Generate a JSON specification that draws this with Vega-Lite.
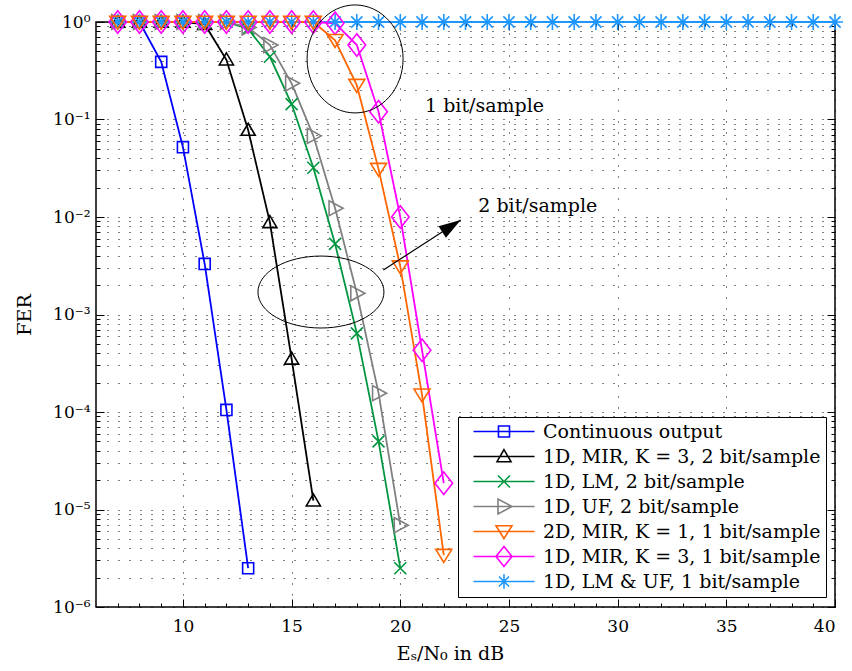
{
  "$schema": "https://vega.github.io/schema/vega-lite/v6.json",
  "width": 739,
  "height": 585,
  "autosize": {"type": "none"},
  "padding": {"left": 96, "top": 22, "right": 17, "bottom": 64},
  "background": "white",
  "config": {
    "font": "DejaVu Serif",
    "view": {"stroke": "#000", "strokeWidth": 1.5},
    "axis": {
      "labelFont": "DejaVu Serif",
      "titleFont": "DejaVu Serif",
      "labelColor": "#000",
      "titleColor": "#000",
      "titleFontWeight": "normal",
      "tickColor": "#000",
      "tickWidth": 1,
      "domain": false,
      "gridColor": "#000",
      "gridDash": [1, 10],
      "gridWidth": 1
    },
    "legend": {
      "orient": "none", "legendX": 362, "legendY": 395,
      "padding": 5, "symbolOffset": 9, "labelOffset": 52, "rowPadding": -2, "gridAlign": "all",
      "symbolSize": 256, "symbolStrokeWidth": 1.6,
      "labelFont": "DejaVu Serif", "labelFontSize": 19, "labelColor": "#000", "labelLimit": 400,
      "strokeColor": "#000", "fillColor": "#fff"
    }
  },
  "datasets": {
    "fer": [
      {"s": "Continuous output", "x": 7, "y": 1},
      {"s": "Continuous output", "x": 8, "y": 1},
      {"s": "Continuous output", "x": 9, "y": 0.39},
      {"s": "Continuous output", "x": 10, "y": 0.052},
      {"s": "Continuous output", "x": 11, "y": 0.0033},
      {"s": "Continuous output", "x": 12, "y": 0.000105},
      {"s": "Continuous output", "x": 13, "y": 0.0000025},
      {"s": "1D, MIR, K = 3, 2 bit/sample", "x": 7, "y": 1},
      {"s": "1D, MIR, K = 3, 2 bit/sample", "x": 8, "y": 1},
      {"s": "1D, MIR, K = 3, 2 bit/sample", "x": 9, "y": 1},
      {"s": "1D, MIR, K = 3, 2 bit/sample", "x": 10, "y": 1},
      {"s": "1D, MIR, K = 3, 2 bit/sample", "x": 11, "y": 0.95},
      {"s": "1D, MIR, K = 3, 2 bit/sample", "x": 12, "y": 0.41},
      {"s": "1D, MIR, K = 3, 2 bit/sample", "x": 13, "y": 0.078},
      {"s": "1D, MIR, K = 3, 2 bit/sample", "x": 14, "y": 0.0088},
      {"s": "1D, MIR, K = 3, 2 bit/sample", "x": 15, "y": 0.00035},
      {"s": "1D, MIR, K = 3, 2 bit/sample", "x": 16, "y": 0.0000123},
      {"s": "1D, LM, 2 bit/sample", "x": 7, "y": 1},
      {"s": "1D, LM, 2 bit/sample", "x": 8, "y": 1},
      {"s": "1D, LM, 2 bit/sample", "x": 9, "y": 1},
      {"s": "1D, LM, 2 bit/sample", "x": 10, "y": 1},
      {"s": "1D, LM, 2 bit/sample", "x": 11, "y": 1},
      {"s": "1D, LM, 2 bit/sample", "x": 12, "y": 1},
      {"s": "1D, LM, 2 bit/sample", "x": 13, "y": 0.85},
      {"s": "1D, LM, 2 bit/sample", "x": 14, "y": 0.44},
      {"s": "1D, LM, 2 bit/sample", "x": 15, "y": 0.144},
      {"s": "1D, LM, 2 bit/sample", "x": 16, "y": 0.032},
      {"s": "1D, LM, 2 bit/sample", "x": 17, "y": 0.0053},
      {"s": "1D, LM, 2 bit/sample", "x": 18, "y": 0.00064},
      {"s": "1D, LM, 2 bit/sample", "x": 19, "y": 0.00005},
      {"s": "1D, LM, 2 bit/sample", "x": 20, "y": 0.0000025},
      {"s": "1D, UF, 2 bit/sample", "x": 7, "y": 1},
      {"s": "1D, UF, 2 bit/sample", "x": 8, "y": 1},
      {"s": "1D, UF, 2 bit/sample", "x": 9, "y": 1},
      {"s": "1D, UF, 2 bit/sample", "x": 10, "y": 1},
      {"s": "1D, UF, 2 bit/sample", "x": 11, "y": 1},
      {"s": "1D, UF, 2 bit/sample", "x": 12, "y": 1},
      {"s": "1D, UF, 2 bit/sample", "x": 13, "y": 0.88},
      {"s": "1D, UF, 2 bit/sample", "x": 14, "y": 0.58},
      {"s": "1D, UF, 2 bit/sample", "x": 15, "y": 0.235},
      {"s": "1D, UF, 2 bit/sample", "x": 16, "y": 0.068},
      {"s": "1D, UF, 2 bit/sample", "x": 17, "y": 0.0123},
      {"s": "1D, UF, 2 bit/sample", "x": 18, "y": 0.00165},
      {"s": "1D, UF, 2 bit/sample", "x": 19, "y": 0.000156},
      {"s": "1D, UF, 2 bit/sample", "x": 20, "y": 0.0000069},
      {"s": "1D, LM & UF, 1 bit/sample", "x": 7, "y": 1},
      {"s": "1D, LM & UF, 1 bit/sample", "x": 8, "y": 1},
      {"s": "1D, LM & UF, 1 bit/sample", "x": 9, "y": 1},
      {"s": "1D, LM & UF, 1 bit/sample", "x": 10, "y": 1},
      {"s": "1D, LM & UF, 1 bit/sample", "x": 11, "y": 1},
      {"s": "1D, LM & UF, 1 bit/sample", "x": 12, "y": 1},
      {"s": "1D, LM & UF, 1 bit/sample", "x": 13, "y": 1},
      {"s": "1D, LM & UF, 1 bit/sample", "x": 14, "y": 1},
      {"s": "1D, LM & UF, 1 bit/sample", "x": 15, "y": 1},
      {"s": "1D, LM & UF, 1 bit/sample", "x": 16, "y": 1},
      {"s": "1D, LM & UF, 1 bit/sample", "x": 17, "y": 1},
      {"s": "1D, LM & UF, 1 bit/sample", "x": 18, "y": 1},
      {"s": "1D, LM & UF, 1 bit/sample", "x": 19, "y": 1},
      {"s": "1D, LM & UF, 1 bit/sample", "x": 20, "y": 1},
      {"s": "1D, LM & UF, 1 bit/sample", "x": 21, "y": 1},
      {"s": "1D, LM & UF, 1 bit/sample", "x": 22, "y": 1},
      {"s": "1D, LM & UF, 1 bit/sample", "x": 23, "y": 1},
      {"s": "1D, LM & UF, 1 bit/sample", "x": 24, "y": 1},
      {"s": "1D, LM & UF, 1 bit/sample", "x": 25, "y": 1},
      {"s": "1D, LM & UF, 1 bit/sample", "x": 26, "y": 1},
      {"s": "1D, LM & UF, 1 bit/sample", "x": 27, "y": 1},
      {"s": "1D, LM & UF, 1 bit/sample", "x": 28, "y": 1},
      {"s": "1D, LM & UF, 1 bit/sample", "x": 29, "y": 1},
      {"s": "1D, LM & UF, 1 bit/sample", "x": 30, "y": 1},
      {"s": "1D, LM & UF, 1 bit/sample", "x": 31, "y": 1},
      {"s": "1D, LM & UF, 1 bit/sample", "x": 32, "y": 1},
      {"s": "1D, LM & UF, 1 bit/sample", "x": 33, "y": 1},
      {"s": "1D, LM & UF, 1 bit/sample", "x": 34, "y": 1},
      {"s": "1D, LM & UF, 1 bit/sample", "x": 35, "y": 1},
      {"s": "1D, LM & UF, 1 bit/sample", "x": 36, "y": 1},
      {"s": "1D, LM & UF, 1 bit/sample", "x": 37, "y": 1},
      {"s": "1D, LM & UF, 1 bit/sample", "x": 38, "y": 1},
      {"s": "1D, LM & UF, 1 bit/sample", "x": 39, "y": 1},
      {"s": "1D, LM & UF, 1 bit/sample", "x": 40, "y": 1},
      {"s": "1D, MIR, K = 3, 1 bit/sample", "x": 7, "y": 1},
      {"s": "1D, MIR, K = 3, 1 bit/sample", "x": 8, "y": 1},
      {"s": "1D, MIR, K = 3, 1 bit/sample", "x": 9, "y": 1},
      {"s": "1D, MIR, K = 3, 1 bit/sample", "x": 10, "y": 1},
      {"s": "1D, MIR, K = 3, 1 bit/sample", "x": 11, "y": 1},
      {"s": "1D, MIR, K = 3, 1 bit/sample", "x": 12, "y": 1},
      {"s": "1D, MIR, K = 3, 1 bit/sample", "x": 13, "y": 1},
      {"s": "1D, MIR, K = 3, 1 bit/sample", "x": 14, "y": 1},
      {"s": "1D, MIR, K = 3, 1 bit/sample", "x": 15, "y": 1},
      {"s": "1D, MIR, K = 3, 1 bit/sample", "x": 16, "y": 1},
      {"s": "1D, MIR, K = 3, 1 bit/sample", "x": 17, "y": 0.97},
      {"s": "1D, MIR, K = 3, 1 bit/sample", "x": 18, "y": 0.58},
      {"s": "1D, MIR, K = 3, 1 bit/sample", "x": 19, "y": 0.12},
      {"s": "1D, MIR, K = 3, 1 bit/sample", "x": 20, "y": 0.01},
      {"s": "1D, MIR, K = 3, 1 bit/sample", "x": 21, "y": 0.00043},
      {"s": "1D, MIR, K = 3, 1 bit/sample", "x": 22, "y": 0.0000186},
      {"s": "2D, MIR, K = 1, 1 bit/sample", "x": 7, "y": 1},
      {"s": "2D, MIR, K = 1, 1 bit/sample", "x": 8, "y": 1},
      {"s": "2D, MIR, K = 1, 1 bit/sample", "x": 9, "y": 1},
      {"s": "2D, MIR, K = 1, 1 bit/sample", "x": 10, "y": 1},
      {"s": "2D, MIR, K = 1, 1 bit/sample", "x": 11, "y": 1},
      {"s": "2D, MIR, K = 1, 1 bit/sample", "x": 12, "y": 1},
      {"s": "2D, MIR, K = 1, 1 bit/sample", "x": 13, "y": 1},
      {"s": "2D, MIR, K = 1, 1 bit/sample", "x": 14, "y": 1},
      {"s": "2D, MIR, K = 1, 1 bit/sample", "x": 15, "y": 1},
      {"s": "2D, MIR, K = 1, 1 bit/sample", "x": 16, "y": 1},
      {"s": "2D, MIR, K = 1, 1 bit/sample", "x": 17, "y": 0.65},
      {"s": "2D, MIR, K = 1, 1 bit/sample", "x": 18, "y": 0.225},
      {"s": "2D, MIR, K = 1, 1 bit/sample", "x": 19, "y": 0.031},
      {"s": "2D, MIR, K = 1, 1 bit/sample", "x": 20, "y": 0.0031},
      {"s": "2D, MIR, K = 1, 1 bit/sample", "x": 21, "y": 0.00015},
      {"s": "2D, MIR, K = 1, 1 bit/sample", "x": 22, "y": 0.0000034}
    ],
    "ellipses": [
      {"id": "e1", "x": 17.92, "y": 0.418},
      {"id": "e2", "x": 16.35, "y": 0.0017}
    ],
    "notes": [
      {"text": "1 bit/sample", "x": 21.14, "y": 0.1376},
      {"text": "2 bit/sample", "x": 23.59, "y": 0.01297}
    ],
    "arrow": [
      {"x": 19.22, "y": 0.00286, "x2": 22.78, "y2": 0.0093}
    ]
  },
  "layer": [
    {
      "data": {"name": "fer"},
      "mark": {"type": "line", "strokeWidth": 1.8},
      "encoding": {
        "x": {
          "field": "x", "type": "quantitative",
          "scale": {"domain": [6, 40], "nice": false, "zero": false},
          "axis": {
            "orient": "bottom",
            "title": "Eₛ/N₀ in dB",
            "titleFontSize": 19,
            "titlePadding": 10,
            "titleX": 354,
            "labelFontSize": 17,
            "labelPadding": 19,
            "values": [7,8,9,10,11,12,13,14,15,16,17,18,19,20,21,22,23,24,25,26,27,28,29,30,31,32,33,34,35,36,37,38,39,40],
            "labelExpr": "datum.value % 5 === 0 ? datum.label : ''",
            "tickSize": {"condition": {"test": "datum.value % 5 === 0", "value": -8}, "value": -4},
            "gridOpacity": {"condition": {"test": "datum.value % 5 === 0", "value": 1}, "value": 0},
            "grid": true
          }
        },
        "y": {
          "field": "y", "type": "quantitative",
          "scale": {"type": "log", "domain": [0.000001, 1], "nice": false},
          "axis": {
            "orient": "left",
            "title": "FER",
            "titleFontSize": 19,
            "titlePadding": 18,
            "labelFontSize": 17,
            "labelPadding": 14,
            "values": [0.000001,0.000002,0.000003,0.000004,0.000005,0.000006,0.000007,0.000008,0.000009,0.00001,0.00002,0.00003,0.00004,0.00005,0.00006,0.00007,0.00008,0.00009,0.0001,0.0002,0.0003,0.0004,0.0005,0.0006,0.0007,0.0008,0.0009,0.001,0.002,0.003,0.004,0.005,0.006,0.007,0.008,0.009,0.01,0.02,0.03,0.04,0.05,0.06,0.07,0.08,0.09,0.1,0.2,0.3,0.4,0.5,0.6,0.7,0.8,0.9,1],
            "labelExpr": "abs(log(datum.value)/LN10 - round(log(datum.value)/LN10)) < 0.000001 ? ('10' + (round(log(datum.value)/LN10) == 0 ? '⁰' : '⁻' + ['', '¹', '²', '³', '⁴', '⁵', '⁶'][-round(log(datum.value)/LN10)])) : ''",
            "tickSize": {"condition": {"test": "abs(log(datum.value)/LN10 - round(log(datum.value)/LN10)) < 0.000001", "value": -8}, "value": -4},
            "grid": true
          }
        },
        "color": {
          "field": "s", "type": "nominal",
          "scale": {
            "domain": ["Continuous output", "1D, MIR, K = 3, 2 bit/sample", "1D, LM, 2 bit/sample", "1D, UF, 2 bit/sample", "2D, MIR, K = 1, 1 bit/sample", "1D, MIR, K = 3, 1 bit/sample", "1D, LM & UF, 1 bit/sample"],
            "range": ["#0000ff", "#000000", "#009640", "#808080", "#ff6600", "#ff00ff", "#1e96ff"]
          },
          "legend": null
        }
      }
    },
    {
      "data": {"name": "fer"},
      "mark": {"type": "point", "filled": false, "size": 256, "strokeWidth": 1.6, "opacity": 1},
      "encoding": {
        "x": {
          "field": "x", "type": "quantitative",
          "axis": {
            "orient": "top", "title": null, "labels": false, "grid": false,
            "values": [7,8,9,10,11,12,13,14,15,16,17,18,19,20,21,22,23,24,25,26,27,28,29,30,31,32,33,34,35,36,37,38,39,40],
            "tickSize": {"condition": {"test": "datum.value % 5 === 0", "value": -8}, "value": -4}
          }
        },
        "y": {
          "field": "y", "type": "quantitative",
          "axis": {
            "orient": "right", "title": null, "labels": false, "grid": false,
            "values": [0.000001,0.000002,0.000003,0.000004,0.000005,0.000006,0.000007,0.000008,0.000009,0.00001,0.00002,0.00003,0.00004,0.00005,0.00006,0.00007,0.00008,0.00009,0.0001,0.0002,0.0003,0.0004,0.0005,0.0006,0.0007,0.0008,0.0009,0.001,0.002,0.003,0.004,0.005,0.006,0.007,0.008,0.009,0.01,0.02,0.03,0.04,0.05,0.06,0.07,0.08,0.09,0.1,0.2,0.3,0.4,0.5,0.6,0.7,0.8,0.9,1],
            "tickSize": {"condition": {"test": "abs(log(datum.value)/LN10 - round(log(datum.value)/LN10)) < 0.000001", "value": -8}, "value": -4}
          }
        },
        "color": {
          "field": "s", "type": "nominal",
          "scale": {
            "domain": ["Continuous output", "1D, MIR, K = 3, 2 bit/sample", "1D, LM, 2 bit/sample", "1D, UF, 2 bit/sample", "2D, MIR, K = 1, 1 bit/sample", "1D, MIR, K = 3, 1 bit/sample", "1D, LM & UF, 1 bit/sample"],
            "range": ["#0000ff", "#000000", "#009640", "#808080", "#ff6600", "#ff00ff", "#1e96ff"]
          },
          "legend": null
        },
        "shape": {
          "field": "s", "type": "nominal",
          "scale": {
            "domain": ["Continuous output", "1D, MIR, K = 3, 2 bit/sample", "1D, LM, 2 bit/sample", "1D, UF, 2 bit/sample", "2D, MIR, K = 1, 1 bit/sample", "1D, MIR, K = 3, 1 bit/sample", "1D, LM & UF, 1 bit/sample"],
            "range": ["M-0.69,-0.69H0.69V0.69H-0.69Z", "M0,-0.85L0.88,0.65L-0.88,0.65Z", "M-0.75,-0.75L0.75,0.75M-0.75,0.75L0.75,-0.75", "M1,0L-0.75,-0.94L-0.75,0.94Z", "M0,0.9L1,-0.72L-1,-0.72Z", "M0,-1.4L1.1,0L0,1.4L-1.1,0Z", "M0,-1V1M-1,0H1M-0.7,-0.7L0.7,0.7M-0.7,0.7L0.7,-0.7"]
          },
          "legend": null
        }
      }
    },
    {
      "data": {"name": "fer"},
      "transform": [{"filter": "false"}],
      "mark": {"type": "point", "filled": false, "size": 256, "strokeWidth": 1.6, "opacity": 1},
      "encoding": {
        "x": {"field": "x", "type": "quantitative", "axis": null},
        "y": {"field": "y", "type": "quantitative", "axis": null},
        "color": {
          "field": "s", "type": "nominal",
          "scale": {
            "domain": ["Continuous output", "1D, MIR, K = 3, 2 bit/sample", "1D, LM, 2 bit/sample", "1D, UF, 2 bit/sample", "2D, MIR, K = 1, 1 bit/sample", "1D, MIR, K = 3, 1 bit/sample", "1D, LM & UF, 1 bit/sample"],
            "range": ["#0000ff", "#000000", "#009640", "#808080", "#ff6600", "#ff00ff", "#1e96ff"]
          },
          "legend": {"title": null}
        },
        "shape": {
          "field": "s", "type": "nominal",
          "scale": {
            "domain": ["Continuous output", "1D, MIR, K = 3, 2 bit/sample", "1D, LM, 2 bit/sample", "1D, UF, 2 bit/sample", "2D, MIR, K = 1, 1 bit/sample", "1D, MIR, K = 3, 1 bit/sample", "1D, LM & UF, 1 bit/sample"],
            "range": ["M-1,0H6.63M2.12,-0.69H3.5V0.69H2.12Z", "M-1,0H6.63M2.81,-0.85L3.69,0.65L1.94,0.65Z", "M-1,0H6.63M2.06,-0.75L3.56,0.75M2.06,0.75L3.56,-0.75", "M-1,0H6.63M3.81,0L2.06,-0.94L2.06,0.94Z", "M-1,0H6.63M2.81,0.9L3.81,-0.72L1.81,-0.72Z", "M-1,0H6.63M2.81,-1.25L3.81,0L2.81,1.25L1.81,0Z", "M-1,0H6.63M2.81,-0.9V0.9M1.91,0H3.71M2.18,-0.63L3.44,0.63M2.18,0.63L3.44,-0.63"]
          },
          "legend": {"title": null}
        }
      }
    },
    {
      "data": {"name": "ellipses"},
      "transform": [{"filter": "datum.id === 'e1'"}],
      "mark": {"type": "point", "filled": false, "color": "#000", "strokeWidth": 1, "size": 11664, "shape": "M-0.889,0A0.889,1 0 1,1 0.889,0A0.889,1 0 1,1 -0.889,0Z", "opacity": 1},
      "encoding": {
        "x": {"field": "x", "type": "quantitative", "axis": null},
        "y": {"field": "y", "type": "quantitative", "axis": null}
      }
    },
    {
      "data": {"name": "ellipses"},
      "transform": [{"filter": "datum.id === 'e2'"}],
      "mark": {"type": "point", "filled": false, "color": "#000", "strokeWidth": 1, "size": 15876, "shape": "M-1,0A1,0.571 0 1,1 1,0A1,0.571 0 1,1 -1,0Z", "opacity": 1},
      "encoding": {
        "x": {"field": "x", "type": "quantitative", "axis": null},
        "y": {"field": "y", "type": "quantitative", "axis": null}
      }
    },
    {
      "data": {"name": "arrow"},
      "mark": {"type": "rule", "color": "#000", "strokeWidth": 1.2},
      "encoding": {
        "x": {"field": "x", "type": "quantitative", "axis": null},
        "y": {"field": "y", "type": "quantitative", "axis": null},
        "x2": {"field": "x2"},
        "y2": {"field": "y2"}
      }
    },
    {
      "data": {"name": "arrow"},
      "mark": {"type": "point", "filled": true, "color": "#000", "size": 1936, "angle": -32.9, "shape": "M0,0L-1,-0.31L-1,0.31Z", "opacity": 1},
      "encoding": {
        "x": {"field": "x2", "type": "quantitative", "axis": null},
        "y": {"field": "y2", "type": "quantitative", "axis": null}
      }
    },
    {
      "data": {"name": "notes"},
      "mark": {"type": "text", "align": "left", "baseline": "middle", "font": "DejaVu Serif", "fontSize": 19, "color": "#000"},
      "encoding": {
        "x": {"field": "x", "type": "quantitative", "axis": null},
        "y": {"field": "y", "type": "quantitative", "axis": null},
        "text": {"field": "text"}
      }
    }
  ],
  "resolve": {
    "scale": {"color": "independent", "shape": "independent"},
    "axis": {"x": "independent", "y": "independent"}
  }
}
